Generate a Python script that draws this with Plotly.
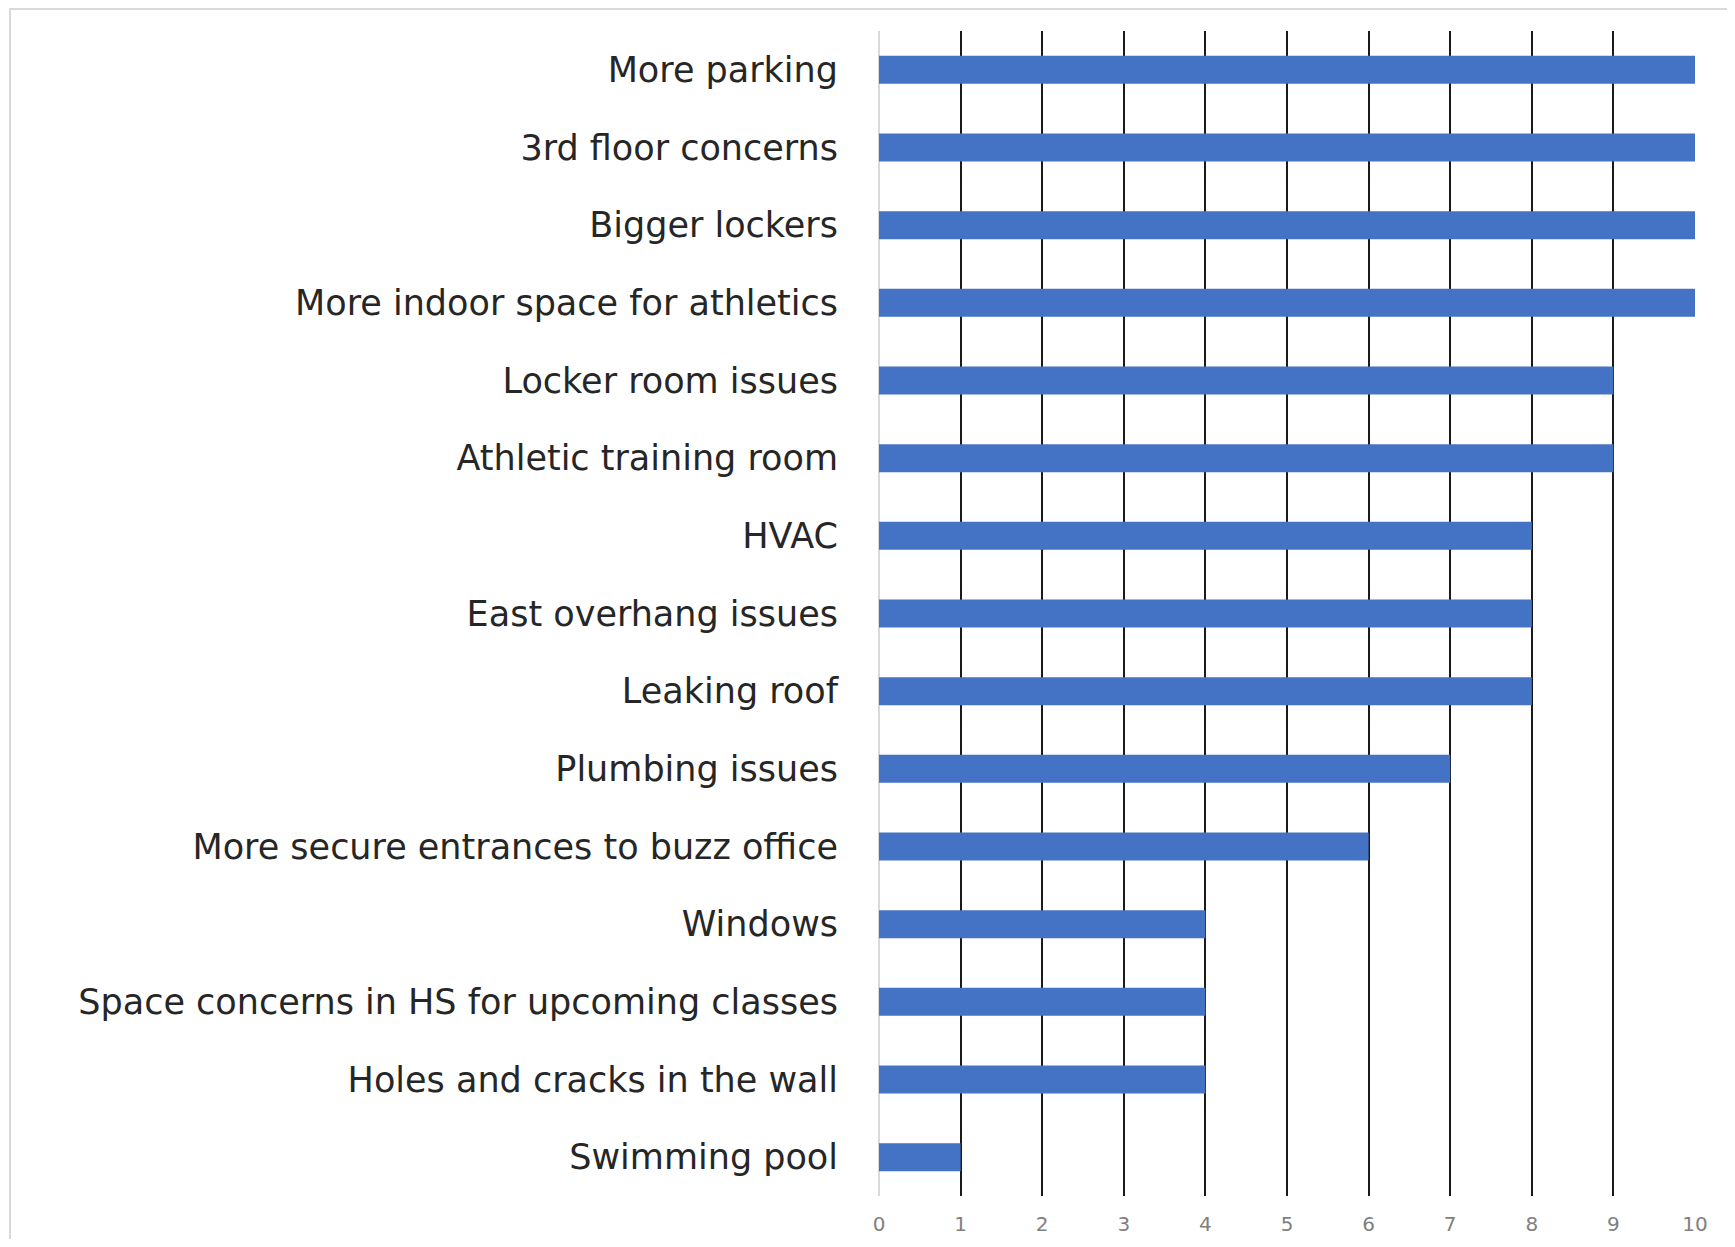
import plotly.graph_objects as go

categories = [
    "More parking",
    "3rd floor concerns",
    "Bigger lockers",
    "More indoor space for athletics",
    "Locker room issues",
    "Athletic training room",
    "HVAC",
    "East overhang issues",
    "Leaking roof",
    "Plumbing issues",
    "More secure entrances to buzz office",
    "Windows",
    "Space concerns in HS for upcoming classes",
    "Holes and cracks in the wall",
    "Swimming pool",
]
values = [10, 10, 10, 10, 9, 9, 8, 8, 8, 7, 6, 4, 4, 4, 1]
x_ticks = list(range(0, 11))

# page has an 8px body margin; figure coordinates are page coords minus 8
OFF = 8
W, H = 1735 - 2 * OFF, 1247 - 2 * OFF
L, R, T, B = 879 - OFF, 1695 - OFF, 31 - OFF, 1196 - OFF

fig = go.Figure(
    go.Bar(
        x=values,
        y=categories,
        orientation="h",
        marker=dict(color="#4472C4", line=dict(width=0)),
        width=0.36,
    )
)

fig.update_layout(
    width=W,
    height=H,
    margin=dict(l=L, r=W - R, t=T, b=H - B),
    paper_bgcolor="white",
    plot_bgcolor="white",
    showlegend=False,
    font=dict(family="DejaVu Sans", color="#262626"),
)

fig.update_xaxes(
    range=[0, 10],
    tickvals=x_ticks,
    ticktext=[str(v) for v in x_ticks],
    showgrid=True,
    gridcolor="#1a1a1a",
    gridwidth=2,
    zeroline=True,
    zerolinecolor="#d9d9d9",
    zerolinewidth=2,
    showline=False,
    tickfont=dict(family="DejaVu Sans", size=20, color="#7f7f7f"),
    ticks="",
    ticklabelstandoff=14,
    automargin=False,
    fixedrange=True,
)

fig.update_yaxes(
    autorange="reversed",
    showgrid=False,
    zeroline=False,
    showline=False,
    ticks="",
    tickfont=dict(family="DejaVu Sans", size=35, color="#262626"),
    ticklabelstandoff=40,
    automargin=False,
)

# outer chart border
fig.add_shape(
    type="rect",
    xref="paper",
    yref="paper",
    x0=(10 - OFF - L) / (R - L),
    x1=(W + 20 - L) / (R - L),
    y0=(B - (H + 20)) / (B - T),
    y1=(B - 1) / (B - T),
    line=dict(color="#d9d9d9", width=2),
    fillcolor="rgba(0,0,0,0)",
    layer="below",
)

fig.write_html("out.html")
